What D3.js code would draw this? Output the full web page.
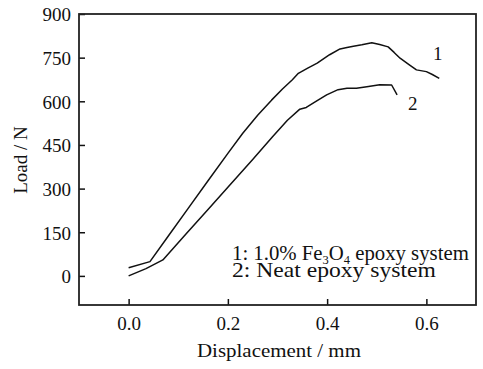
<!DOCTYPE html>
<html><head><meta charset="utf-8">
<script src="https://cdn.jsdelivr.net/npm/d3@7"></script>
<style>body{margin:0;background:#fff}svg{display:block}text{font-family:"Liberation Serif","Times New Roman",serif;fill:#111}</style>
</head><body><svg id="c" width="483" height="369"></svg>
<script>
const xTicks = [0.0, 0.2, 0.4, 0.6];
const yTicks = [0, 150, 300, 450, 600, 750, 900];
const s1x = [0, 0.043, 0.08, 0.12, 0.16, 0.2, 0.23, 0.26, 0.288, 0.31, 0.33, 0.342, 0.36, 0.38, 0.405, 0.426, 0.44, 0.453, 0.47, 0.49, 0.506, 0.523, 0.535, 0.547, 0.565, 0.58, 0.6, 0.612, 0.626];
const s1y = [28, 49, 137, 232, 327, 421, 490, 552, 604, 642, 674, 696, 713, 731, 760, 780, 785, 789, 794, 801, 795, 787, 768, 748, 726, 708, 702, 692, 679];
const s2x = [0, 0.035, 0.069, 0.116, 0.16, 0.2, 0.25, 0.29, 0.32, 0.345, 0.358, 0.375, 0.399, 0.422, 0.44, 0.459, 0.48, 0.506, 0.53, 0.541];
const s2y = [0, 25, 55, 145, 228, 305, 400, 478, 535, 573, 579, 597, 622, 640, 645, 645, 650, 657, 656, 622];

const svg = d3.select("#c");
const L = 79, R = 476, T = 14, B = 305;
const x = d3.scaleLinear().domain([-0.1, 0.7]).range([L, R]);
const y = d3.scaleLinear().domain([-100, 900]).range([B, T]);

const gx = svg.append("g").attr("transform", `translate(0,${B})`)
  .call(d3.axisBottom(x).tickValues(xTicks).tickFormat(d3.format(".1f")).tickSizeInner(-6).tickSizeOuter(0).tickPadding(12));
const gy = svg.append("g").attr("transform", `translate(${L},0)`)
  .call(d3.axisLeft(y).tickValues(yTicks).tickSizeInner(-6).tickSizeOuter(0).tickPadding(8));
[gx, gy].forEach(g => {
  g.select(".domain").remove();
  g.selectAll("line").attr("stroke", "#111").attr("stroke-width", 1.5);
  g.selectAll("text").attr("font-size", 19).attr("font-family", "Liberation Serif").attr("fill", "#111");
});
gy.selectAll("text").attr("dy", "0.36em");
svg.append("rect").attr("x", L).attr("y", T).attr("width", R - L).attr("height", B - T)
  .attr("fill", "none").attr("stroke", "#222").attr("stroke-width", 1.8);

const line = d3.line().x(d => x(d[0])).y(d => y(d[1]));
[[s1x, s1y], [s2x, s2y]].forEach(([xs, ys]) => {
  svg.append("path").datum(xs.map((v, i) => [v, ys[i]])).attr("d", line)
    .attr("fill", "none").attr("stroke", "#111").attr("stroke-width", 1.5).attr("stroke-linejoin", "round");
});

function fit(sel, px, py, width, anchor) {
  const w = sel.node().getComputedTextLength();
  const s = width / w;
  let ox = px;
  if (anchor === "middle") ox = px - width / 2;
  sel.attr("x", 0).attr("y", 0).attr("transform", `translate(${ox},${py}) scale(${s},1)`);
}

svg.append("text").attr("x", 433).attr("y", 60).attr("font-size", 19).text("1");
svg.append("text").attr("x", 408).attr("y", 110).attr("font-size", 19).text("2");

const t1 = svg.append("text").attr("font-size", 20);
t1.append("tspan").text("1: 1.0% Fe");
t1.append("tspan").attr("font-size", 12).attr("dy", 4).text("3");
t1.append("tspan").attr("dy", -4).text("O");
t1.append("tspan").attr("font-size", 12).attr("dy", 4).text("4");
t1.append("tspan").attr("dy", -4).text(" epoxy system");
fit(t1, 232, 259.5, 237);
const t2 = svg.append("text").attr("font-size", 20).text("2: Neat epoxy system");
fit(t2, 232, 277, 204);

const xt = svg.append("text").attr("font-size", 19).text("Displacement / mm");
fit(xt, 279, 357, 164, "middle");
svg.append("text").attr("font-size", 19).attr("text-anchor", "middle").text("Load / N")
  .attr("transform", "translate(27,160) rotate(-90)");
</script></body></html>
